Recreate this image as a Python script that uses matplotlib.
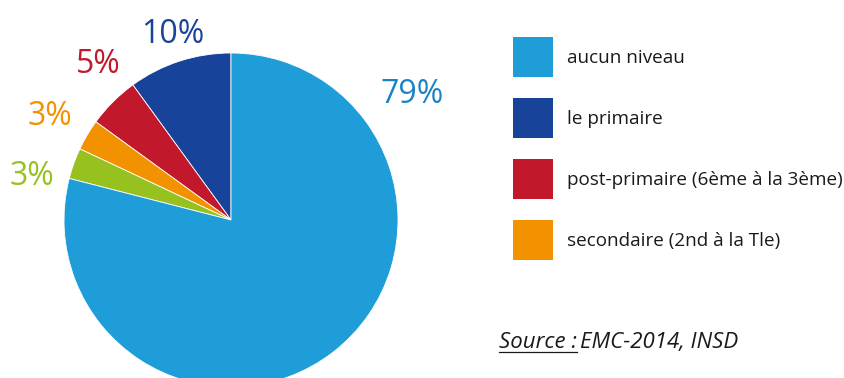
import matplotlib
matplotlib.use('Agg')
import matplotlib.pyplot as plt
from matplotlib.patches import Rectangle

# niveau d'instruction (EMC-2014, INSD)
shares = [10, 5, 3, 3, 79]
slice_colors = ['#17449a', '#c1192b', '#f29200', '#97c11f', '#1e9dd8']
label_colors = ['#17449a', '#c1192b', '#f29200', '#97c11f', '#1b82c5']
legend_labels = ['aucun niveau', 'le primaire',
                 'post-primaire (6ème à la 3ème)', 'secondaire (2nd à la Tle)']
legend_colors = ['#1e9dd8', '#17449a', '#c1192b', '#f29200']

# canvas in pixel units, origin bottom-left
W, H = 845, 378
fig = plt.figure(figsize=(W / 100, H / 100), dpi=100)
ax = fig.add_axes([0, 0, 1, 1])

cx, cy, R = 231, H - 220, 167
ax.pie(shares, colors=slice_colors, startangle=90, counterclock=True,
       center=(cx, cy), radius=R, frame=True,
       wedgeprops=dict(linewidth=0.6, edgecolor='white'))
ax.set_xlim(0, W)
ax.set_ylim(0, H)
ax.set_aspect('auto')
ax.axis('off')

# percentage labels (centre x, baseline y)
label_pos = [(173, H - 43), (98, H - 73), (50, H - 125), (32, H - 185), (412, H - 103)]
for v, c, (x, y) in zip(shares, label_colors, label_pos):
    ax.text(x, y, f'{v}%', color=c, fontsize=23, family='Open Sans',
            ha='center', va='baseline')

# legend
for i, (lab, c) in enumerate(zip(legend_labels, legend_colors)):
    top = 37 + i * 61
    ax.add_patch(Rectangle((513, H - top - 40), 40, 40, color=c, lw=0))
    ax.text(567, H - top - 26, lab, fontsize=13.6, family='Open Sans',
            color='#1a1a1a', ha='left', va='baseline')

# source line, "Source :" underlined
src = ax.text(499, H - 348, 'Source :', fontsize=16, family='Open Sans',
              style='italic', color='#1a1a1a', ha='left', va='baseline')
fig.canvas.draw()
bb = src.get_window_extent().transformed(ax.transData.inverted())
ax.text(bb.x1 + 3, H - 348, 'EMC-2014, INSD', fontsize=16, family='Open Sans',
        style='italic', color='#1a1a1a', ha='left', va='baseline')
ax.plot([bb.x0, bb.x1], [H - 352, H - 352], color='#1a1a1a', lw=0.9)

fig.savefig('out.png', dpi=100)
